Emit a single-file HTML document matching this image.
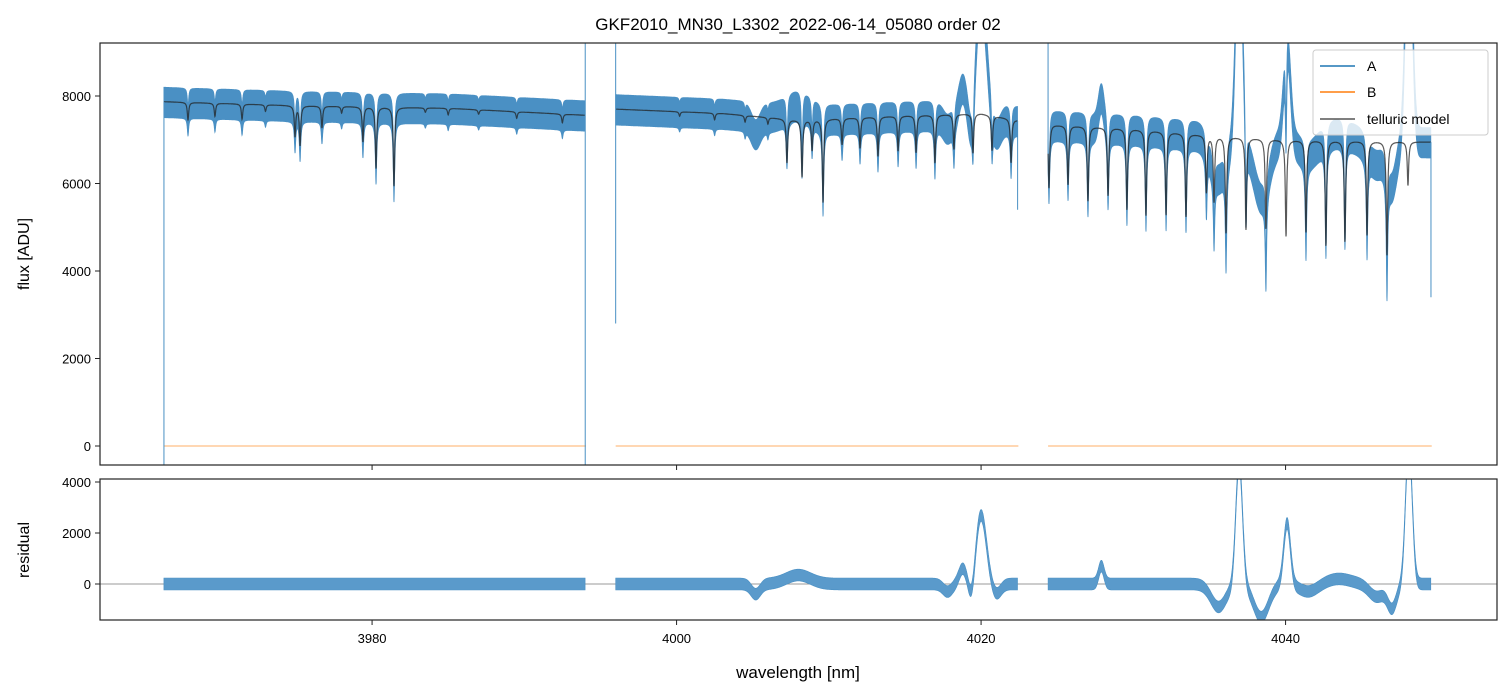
<!DOCTYPE html>
<html><head><meta charset="utf-8"><style>
body{margin:0;background:#fff}
svg{display:block;font-family:"Liberation Sans","DejaVu Sans",sans-serif}
</style></head><body>
<svg id="chart" width="1510" height="696" viewBox="0 0 1510 696" xmlns="http://www.w3.org/2000/svg">
<defs>
<clipPath id="cTop"><rect x="100" y="43" width="1397" height="422"/></clipPath>
<clipPath id="cBot"><rect x="100" y="479" width="1397" height="141"/></clipPath>
</defs>
<text x="798" y="30" text-anchor="middle" font-size="17">GKF2010_MN30_L3302_2022-06-14_05080  order 02</text>
<g id="topPanel"></g>
<g id="botPanel"></g>
<rect x="100" y="43" width="1397" height="422" fill="none" stroke="#222" stroke-width="1.2"/>
<rect x="100" y="479" width="1397" height="141" fill="none" stroke="#222" stroke-width="1.2"/>
<text transform="translate(29,254) rotate(-90)" text-anchor="middle" font-size="16">flux [ADU]</text>
<text transform="translate(29,550) rotate(-90)" text-anchor="middle" font-size="16">residual</text>
<text x="798" y="678" text-anchor="middle" font-size="17">wavelength [nm]</text>
<g>
<rect x="1313" y="50" width="175" height="85" rx="3" fill="#fff" fill-opacity="0.8" stroke="#ccc"/>
<line x1="1320" y1="66" x2="1355" y2="66" stroke="#1f77b4" stroke-width="1.5"/>
<text x="1367" y="71" font-size="14">A</text>
<line x1="1320" y1="92" x2="1355" y2="92" stroke="#ff7f0e" stroke-width="1.5"/>
<text x="1367" y="97" font-size="14">B</text>
<line x1="1320" y1="119" x2="1355" y2="119" stroke="#555" stroke-width="1.5"/>
<text x="1367" y="124" font-size="14">telluric model</text>
</g>
</svg>
<script>
// ---- data ----
const segStarts=[3966.33,3996.0,4024.4];
const segEnds=[3994.0,4022.4,4049.55];
const contWl=[[3966.33,3975,3985,3994.0],[3996.0,4003,4008,4015,4020,4022.4],[4024.4,4030,4035,4040,4049.55]];
const contFlux=[[7870,7780,7720,7560],[7700,7600,7450,7550,7600,7450],[7350,7250,7100,7000,6950]];
const lineWl=[3967.91,3969.68,3971.46,3973.0,3974.94,3975.27,3976.71,3978.0,3979.40,3980.26,3981.44,3983.5,3985.0,3987.0,3989.5,3992.5,
4000.2,4002.5,4004.5,4006.0,4007.25,4008.24,4008.90,4009.62,4010.87,4012.05,4013.23,4014.55,4015.73,4016.97,4018.22,4019.47,4020.72,4021.97,
4024.46,4025.71,4027.02,4028.34,4029.58,4030.83,4032.15,4033.46,4034.8,4035.3,4036.09,4037.40,4038.71,4040.03,4041.34,4042.65,4043.90,4045.35,4046.66,4048.04];
const lineDepth=[400,300,350,150,700,900,500,150,800,1400,1800,100,150,100,150,200,
100,150,150,150,1000,1300,700,1900,600,700,900,800,850,1100,800,900,800,1000,
1450,1350,1700,1550,1850,1950,1900,1900,1300,1500,2200,2100,2050,2200,2100,2400,2300,2150,2600,1000];
const resWl=[4005.2,4008.0,4017.8,4018.8,4019.4,4020.0,4021.0,4027.9,4035.6,4036.95,4038.4,4040.1,4041.5,4043.5,4046.0,4047.0,4048.1];
const resAmp=[-400,350,-300,600,-800,2700,-400,700,-900,4800,-1300,2400,-300,200,-500,-900,5500];
const resSig=[0.3,0.8,0.3,0.25,0.2,0.35,0.3,0.18,0.5,0.22,0.5,0.22,0.6,0.8,0.5,0.3,0.22];
const noiseAmp=[330,330,330];
const yTicks=[0,2000,4000,6000,8000];
const rTicks=[0,2000,4000];
const xTicks=[3980,4000,4020,4040];
// ---- axes ----
const X=w=>100+(w-3962.13)*15.225;
const Y=f=>446-f*0.04375;
const R=f=>584-f*0.0255;
const NS='http://www.w3.org/2000/svg';
function mk(parent,tag,attrs){const e=document.createElementNS(NS,tag);for(const k in attrs)e.setAttribute(k,attrs[k]);parent.appendChild(e);return e;}
function cont(s,w){const a=contWl[s],b=contFlux[s];for(let i=0;i<a.length-1;i++){if(w<=a[i+1]){const t=(w-a[i])/(a[i+1]-a[i]);return b[i]+t*(b[i+1]-b[i]);}}return b[b.length-1];}
function model(s,w){let f=cont(s,w);for(let i=0;i<lineWl.length;i++){const d=(w-lineWl[i])/0.055;f-=lineDepth[i]/(1+d*d);}return f;}
function resid(w){let r=0;for(let i=0;i<resWl.length;i++){const d=(w-resWl[i])/resSig[i];r+=resAmp[i]*Math.exp(-0.5*d*d);}return r;}
const topG=document.getElementById('topPanel'),botG=document.getElementById('botPanel');
const gT=mk(topG,'g',{'clip-path':'url(#cTop)'});
const gB=mk(botG,'g',{'clip-path':'url(#cBot)'});
mk(gB,'line',{x1:100,x2:1497,y1:R(0),y2:R(0),stroke:'#777','stroke-width':0.8});
for(let s=0;s<3;s++){
  const up=[],dn=[],mp=[],ru=[],rd=[];
  for(let w=segStarts[s];w<=segEnds[s];w+=0.01){
    const m=model(s,w),r=resid(w),a=m+r,n=noiseAmp[s];
    up.push(X(w).toFixed(1)+','+Y(a+n).toFixed(1));
    dn.unshift(X(w).toFixed(1)+','+Y(a-n*1.1).toFixed(1));
    mp.push(X(w).toFixed(1)+','+Y(m).toFixed(1));
    ru.push(X(w).toFixed(1)+','+R(r+n*0.7).toFixed(1));
    rd.unshift(X(w).toFixed(1)+','+R(r-n*0.7).toFixed(1));
  }
  const p=mk(gT,'polygon',{points:up.concat(dn).join(' '),fill:'#4a90c4',stroke:'#4a90c4','stroke-width':0.8});
  
  
  const m=mk(gT,'polyline',{points:mp.join(' '),fill:'none',stroke:'#222','stroke-opacity':0.75,'stroke-width':1.2});
  
  
  const b=mk(gT,'line',{x1:X(segStarts[s]),x2:X(segEnds[s]+0.05),y1:Y(0),y2:Y(0),stroke:'#ff7f0e','stroke-opacity':0.5,'stroke-width':1.2});
  
  
  const rr=mk(gB,'polygon',{points:ru.concat(rd).join(' '),fill:'#5a9acb',stroke:'#4a90c4','stroke-width':0.6});
  
  
}
// edge spikes
const edges=[segStarts[0],segEnds[0],segStarts[1],segEnds[1],segStarts[2],segEnds[2]];
edges.forEach((w,i)=>{
  let lo,hi;
  if(i===0){lo=-434;hi=model(0,w);}
  else if(i===1){lo=-434;hi=9300;}
  else if(i===2){lo=2800;hi=9300;}
  else if(i===3){lo=5400;hi=model(1,w);}
  else if(i===4){lo=model(2,w);hi=9300;}
  else {lo=3400;hi=model(2,w);}
  const l=mk(gT,'line',{x1:X(w),x2:X(w),y1:Y(lo),y2:Y(hi),stroke:'#4a90c4','stroke-width':1});
  
  
});
// ticks
yTicks.forEach(t=>{
  const l=mk(topG,'line',{x1:95,x2:100,y1:Y(t),y2:Y(t),stroke:'#222'});
  
  
  const tx=mk(topG,'text',{x:91,y:Y(t)+5,'text-anchor':'end','font-size':13});
  
  
  tx.textContent=t;
});
rTicks.forEach(t=>{
  const l=mk(botG,'line',{x1:95,x2:100,y1:R(t),y2:R(t),stroke:'#222'});
  
  
  const tx=mk(botG,'text',{x:91,y:R(t)+5,'text-anchor':'end','font-size':13});
  
  
  tx.textContent=t;
});
xTicks.forEach(t=>{
  const l=mk(topG,'line',{x1:X(t),x2:X(t),y1:465,y2:470,stroke:'#222'});
  
  
  const l2=mk(botG,'line',{x1:X(t),x2:X(t),y1:620,y2:625,stroke:'#222'});
  
  
  const tx=mk(botG,'text',{x:X(t),y:643,'text-anchor':'middle','font-size':13});
  
  
  tx.textContent=t;
});
</script>
</body></html>
